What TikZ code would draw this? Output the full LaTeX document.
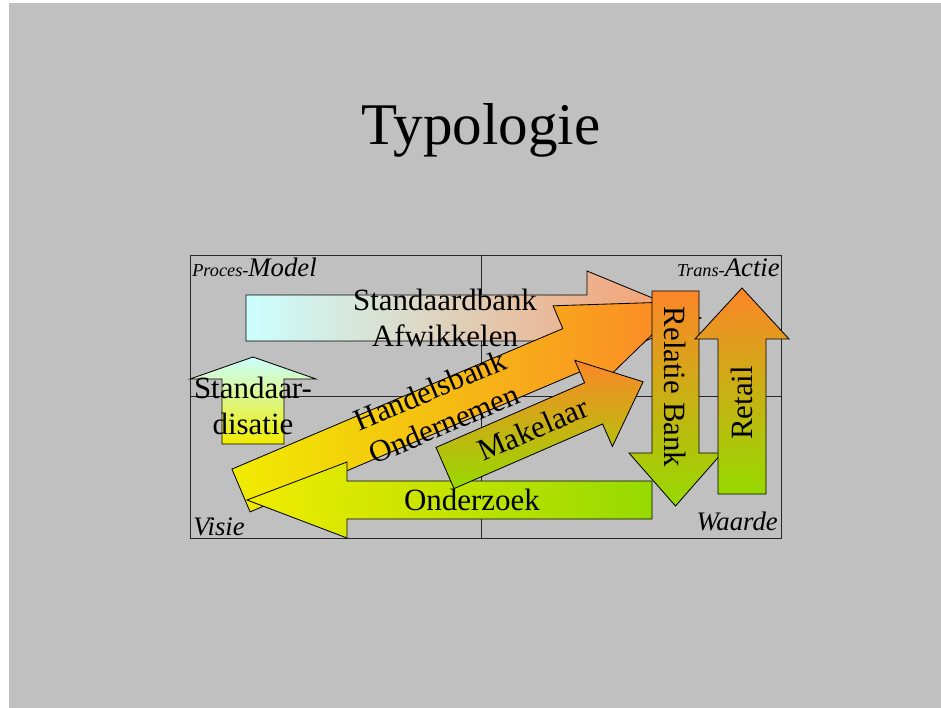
\documentclass[tikz,border=0pt]{standalone}
\usepackage{fontspec}
\setmainfont{Liberation Serif}
\usepackage{xcolor}
\usepackage{tikz}
\usetikzlibrary{positioning}

\definecolor{slide}{RGB}{192,192,192}
\definecolor{paleblue}{RGB}{204,255,255}
\definecolor{salmon}{RGB}{248,152,104}
\definecolor{orng}{RGB}{252,134,40}
\definecolor{lime}{RGB}{150,218,0}
\definecolor{yell}{RGB}{240,236,0}

\begin{document}
\begin{tikzpicture}[
  x=0.025cm, y=-0.025cm,
  frame/.style={draw=black!85, line width=0.7pt},
  arw/.style={draw=black, line width=0.6pt, line join=miter},
  txt/.style={font=\fontsize{22}{26}\selectfont, align=center, inner sep=0pt},
  corner/.style={font=\itshape\fontsize{19}{21}\selectfont, inner sep=0pt}
]
\useasboundingbox (0,0) rectangle (941,708);
\fill[white] (0,0) rectangle (941,708);
\fill[slide] (9,3) rectangle (941,708);

% Title
\node[font=\fontsize{42}{50}\selectfont, anchor=base] (title) at (481,145) {Typologie};

% Frame with quadrants
\draw[frame] (190,255) rectangle (781,538);
\draw[frame] (481,255) -- (481,538);
\draw[frame] (190,396) -- (781,396);

% Arrows
\draw[arw, left color=paleblue, right color=salmon]
  (246,295) -- (587,295) -- (587,271) -- (701,318) -- (587,365) -- (587,341) -- (246,341) -- cycle;
\draw[arw, top color=paleblue, bottom color=yell]
  (222,444) -- (222,379) -- (190,379) -- (253,357) -- (316,379) -- (284,379) -- (284,444) -- cycle;
\draw[arw, left color=yell, right color=orng]
  (231.9,469.1) -- (562.8,328.6) -- (553.1,305.8) -- (686.2,301.5) -- (590.7,394.2) -- (581.0,371.4) -- (250.1,511.9) -- cycle;
\draw[arw, left color=yell, right color=lime]
  (652,481) -- (347,481) -- (347,462) -- (247,500) -- (347,538) -- (347,519) -- (652,519) -- cycle;
\draw[arw, top color=orng, bottom color=lime]
  (436.0,447.4) -- (584.6,382.8) -- (574.8,360.3) -- (643.1,381.8) -- (612.4,446.5) -- (602.6,424.0) -- (454.0,488.6) -- cycle;
\draw[arw, top color=orng, bottom color=lime]
  (652,291) -- (699,291) -- (699,453) -- (722,453) -- (675.5,506) -- (629,453) -- (652,453) -- cycle;
\draw[arw, top color=orng, bottom color=lime]
  (718,494) -- (718,339) -- (695,339) -- (742,288) -- (789,339) -- (766,339) -- (766,494) -- cycle;

% Labels
\node[txt] (afwikkelen) at (445,318) {Standaardbank\\Afwikkelen};
\node[txt] (standaard) at (253,406) {Standaar-\\disatie};
\node[txt, rotate=23] (handelsbank) at (437,407) {Handelsbank\\Ondernemen};
\node[txt] (onderzoek) at (472,500) {Onderzoek};
\node[txt, rotate=23.5] (makelaar) at (533,429) {Makelaar};
\node[txt, rotate=-90] (relatie) at (675,387) {Relatie Bank};
\node[txt, rotate=90] (retail) at (742,403) {Retail};

% Corners
\node[corner, anchor=base west] (model) at (192,277) {{\fontsize{13}{15}\selectfont Proces-}Model};
\node[corner, anchor=base east] (actie) at (780,277) {{\fontsize{13}{15}\selectfont Trans-}Actie};
\node[corner, anchor=base west] (visie) at (193,535) {Visie};
\node[corner, anchor=base east] (waarde) at (778,530) {Waarde};
\end{tikzpicture}
\end{document}
